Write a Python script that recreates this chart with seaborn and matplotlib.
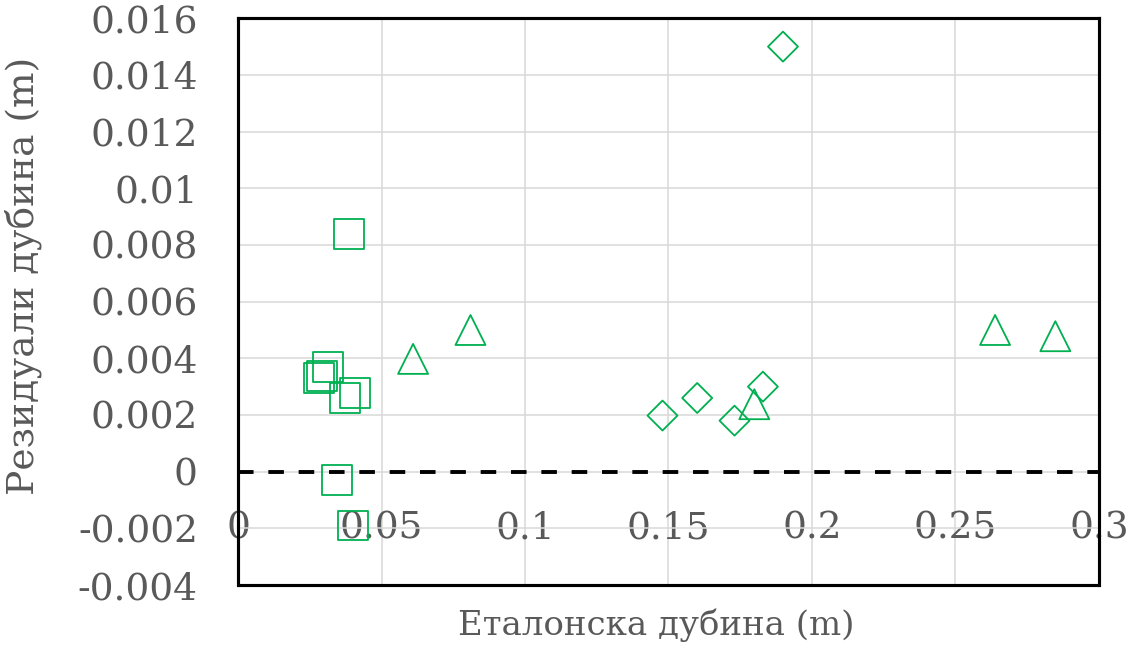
import seaborn as sns
import matplotlib.pyplot as plt
import matplotlib.ticker as mticker

# data
sq_x = [0.0386, 0.0313, 0.0292, 0.0283, 0.0409, 0.0374, 0.0345, 0.0399]
sq_y = [0.0084, 0.00368, 0.00338, 0.0033, 0.00279, 0.00261, -0.0003, -0.0019]
tri_x = [0.061, 0.081, 0.1799, 0.2638, 0.2848]
tri_y = [0.00398, 0.005, 0.00238, 0.005, 0.00478]
dia_x = [0.1479, 0.160, 0.173, 0.1829, 0.1899]
dia_y = [0.00198, 0.0026, 0.0018, 0.0030, 0.0150]

x_ticks = [0, 0.05, 0.1, 0.15, 0.2, 0.25, 0.3]
y_ticks = [-0.004, -0.002, 0, 0.002, 0.004, 0.006, 0.008, 0.01, 0.012, 0.014, 0.016]

sns.set_theme(style="white")
plt.rcParams['font.family'] = ['DejaVu Serif']

green = "#00B050"
grey = "#595959"

fig, ax = plt.subplots(figsize=(11.4, 6.48), dpi=100)
fig.subplots_adjust(left=0.2088, right=0.964, top=0.9718, bottom=0.0972)

# zero reference line
ax.axhline(0, color="black", lw=2.8, ls=(0, (4.0, 3.8)), zorder=2)

sns.scatterplot(x=sq_x, y=sq_y, marker="s", s=466, facecolors="none",
                edgecolor=green, linewidth=1.3, ax=ax, zorder=3)
sns.scatterplot(x=tri_x, y=tri_y, marker="^", s=466, facecolors="none",
                edgecolor=green, linewidth=1.3, ax=ax, zorder=3)
sns.scatterplot(x=dia_x, y=dia_y, marker="D", s=233, facecolors="none",
                edgecolor=green, linewidth=1.3, ax=ax, zorder=3)

ax.set_xlim(0, 0.3)
ax.set_ylim(-0.004, 0.016)
ax.set_xticks(x_ticks)
ax.set_yticks(y_ticks)
fmt = mticker.FuncFormatter(lambda v, p: "{:g}".format(round(v, 6)))
ax.xaxis.set_major_formatter(fmt)
ax.yaxis.set_major_formatter(fmt)

ax.grid(True, color="#D9D9D9", lw=1.1, zorder=0)
ax.set_axisbelow(True)

# x labels sit next to the zero line, like Excel's axis crossing at 0
ax.spines["bottom"].set_position(("data", 0))
ax.spines["bottom"].set_visible(False)
ax.axhline(-0.004, color="black", lw=2.25, clip_on=False, zorder=4)
for side in ["left", "right", "top"]:
    ax.spines[side].set_color("black")
    ax.spines[side].set_linewidth(2.25)

ax.tick_params(axis="x", length=0, pad=28, labelsize=27, labelcolor=grey)
ax.tick_params(axis="y", length=0, pad=29, labelsize=27, labelcolor=grey)

ax.set_xlabel("Еталонска дубина (m)", fontsize=24.5, color=grey, va="center")
ax.set_ylabel("Резидуали дубина (m)", fontsize=27, color=grey, va="center")
ax.xaxis.set_label_coords(0.4855, -0.0706)
ax.yaxis.set_label_coords(-0.25, 0.545)

plt.savefig("out.png", dpi=100)
